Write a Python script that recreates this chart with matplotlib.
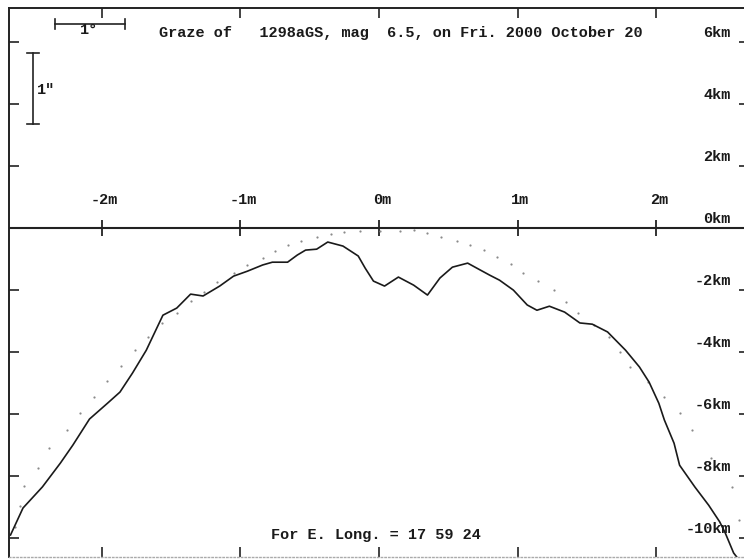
import numpy as np
import matplotlib
matplotlib.use('Agg')
import matplotlib.pyplot as plt

# limb profile (minutes of time from central conjunction, km from mean limb)
profile_min = [-2.66, -2.57, -2.43, -2.30, -2.21, -2.09, -1.96, -1.87, -1.78, -1.68,
               -1.56, -1.46, -1.36, -1.27, -1.15, -1.05, -0.95, -0.84, -0.77, -0.66,
               -0.59, -0.53, -0.45, -0.37, -0.26, -0.15, -0.10, -0.04, 0.04, 0.14,
               0.25, 0.35, 0.44, 0.53, 0.64, 0.73, 0.80, 0.87, 0.97, 1.07,
               1.14, 1.23, 1.34, 1.45, 1.54, 1.65, 1.78, 1.88, 1.95, 2.02,
               2.06, 2.13, 2.17, 2.28, 2.38, 2.46, 2.50, 2.56, 2.60]
profile_km = [-9.90, -9.03, -8.35, -7.58, -7.00, -6.16, -5.65, -5.29, -4.68, -3.94,
              -2.81, -2.58, -2.13, -2.19, -1.87, -1.55, -1.39, -1.19, -1.10, -1.10,
              -0.87, -0.71, -0.68, -0.45, -0.58, -0.90, -1.29, -1.71, -1.87, -1.58,
              -1.84, -2.16, -1.61, -1.26, -1.13, -1.35, -1.52, -1.68, -2.00, -2.48,
              -2.65, -2.52, -2.71, -3.06, -3.10, -3.35, -3.94, -4.48, -4.97, -5.65,
              -6.19, -6.94, -7.65, -8.35, -8.94, -9.48, -9.84, -10.48, -10.71]

# mean (smooth) limb, drawn dotted
mean_min = [-2.63, -2.59, -2.56, -2.46, -2.38, -2.25, -2.16, -2.06, -1.96, -1.86,
            -1.76, -1.67, -1.57, -1.46, -1.36, -1.26, -1.17, -1.05, -0.95, -0.84,
            -0.75, -0.66, -0.56, -0.45, -0.35, -0.25, -0.14, 0.01, 0.15, 0.25,
            0.35, 0.45, 0.56, 0.66, 0.76, 0.85, 0.95, 1.04, 1.15, 1.26,
            1.35, 1.44, 1.55, 1.66, 1.74, 1.81, 1.94, 2.06, 2.17, 2.26,
            2.40, 2.55, 2.60]
mean_km = [-9.65, -8.97, -8.32, -7.74, -7.10, -6.52, -5.97, -5.45, -4.94, -4.45,
           -3.94, -3.52, -3.06, -2.74, -2.35, -2.06, -1.74, -1.45, -1.19, -0.97,
           -0.74, -0.55, -0.42, -0.29, -0.19, -0.13, -0.10, -0.10, -0.10, -0.06,
           -0.16, -0.29, -0.42, -0.55, -0.71, -0.94, -1.16, -1.45, -1.71, -2.00,
           -2.39, -2.74, -3.13, -3.52, -4.00, -4.48, -4.97, -5.45, -5.97, -6.52,
           -7.42, -8.35, -9.42]

minute_ticks = [-2, -1, 0, 1, 2]
minute_labels = ['-2m', '-1m', '0m', '1m', '2m']
km_ticks = [6, 4, 2, 0, -2, -4, -6, -8, -10]
km_labels = ['6km', '4km', '2km', '0km', '-2km', '-4km', '-6km', '-8km', '-10km']

title_txt = 'Graze of   1298aGS, mag  6.5, on Fri. 2000 October 20'
long_txt = 'For E. Long. = 17 59 24'

FONT = 'Liberation Mono'

fig = plt.figure(figsize=(7.44, 5.60), dpi=100)
# frame runs a little past the right edge of the page, like the old plotter output
ax = fig.add_axes([9 / 744, 3 / 560, 740 / 744, 549 / 560])
ax.set_xlim(-2.671, 2.671)
ax.set_ylim(-10.61, 7.10)

for side in ['top', 'left']:
    ax.spines[side].set_linewidth(1.4)
    ax.spines[side].set_color('#222222')
ax.spines['right'].set_visible(False)
ax.spines['bottom'].set_color('#aaaaaa')
ax.spines['bottom'].set_linestyle(':')
ax.spines['bottom'].set_linewidth(1.0)

ax.set_xticks(minute_ticks)
ax.set_yticks(km_ticks)
ax.tick_params(axis='x', direction='in', length=7.5, width=1.2, color='#222222',
               top=True, bottom=True, labelbottom=False, labeltop=False)
ax.tick_params(axis='y', direction='in', length=7.5, width=1.2, color='#222222',
               left=True, right=True, labelleft=False, labelright=False)

# zero line with minute crossings
ax.axhline(0, color='#222222', lw=1.5)
ax.plot(minute_ticks, np.zeros(len(minute_ticks)), ls='none', marker='|',
        ms=12, mew=1.3, color='#222222')

# mean limb and actual profile
ax.plot(mean_min, mean_km, ls='none', marker='o', ms=1.6, color='#8a8a8a', mec='none')
ax.plot(profile_min, profile_km, color='#1a1a1a', lw=1.2)

tstyle = dict(family=FONT, fontweight='bold', fontsize=11, color='#1a1a1a')

for m, lab in zip(minute_ticks, minute_labels):
    ax.text(m + 0.02, 0.9, lab, ha='center', va='center', **tstyle)

for k, lab in zip(km_ticks, km_labels):
    ax.text(2.54, k + 0.3, lab, ha='right', va='center', **tstyle)

ax.text(0.16, 6.29, title_txt, ha='center', va='center', **tstyle)
ax.text(-0.02, -9.90, long_txt, ha='center', va='center', **tstyle)

# scale bars in the upper left corner
hx0, hx1, hy = -2.339, -1.834, 6.58
ax.plot([hx0, hx1], [hy, hy], color='#222222', lw=1.2)
ax.plot([hx0, hx0], [hy - 0.17, hy + 0.17], color='#222222', lw=1.2)
ax.plot([hx1, hx1], [hy - 0.17, hy + 0.17], color='#222222', lw=1.2)
ax.text(-2.09, 6.40, '1°', ha='center', va='center', **tstyle)

vx, vy0, vy1 = -2.498, 3.35, 5.65
ax.plot([vx, vx], [vy0, vy1], color='#222222', lw=1.2)
ax.plot([vx - 0.045, vx + 0.045], [vy0, vy0], color='#222222', lw=1.2)
ax.plot([vx - 0.045, vx + 0.045], [vy1, vy1], color='#222222', lw=1.2)
ax.text(-2.47, 4.45, '1"', ha='left', va='center', **tstyle)

fig.savefig('out.png', dpi=100, facecolor='white')
